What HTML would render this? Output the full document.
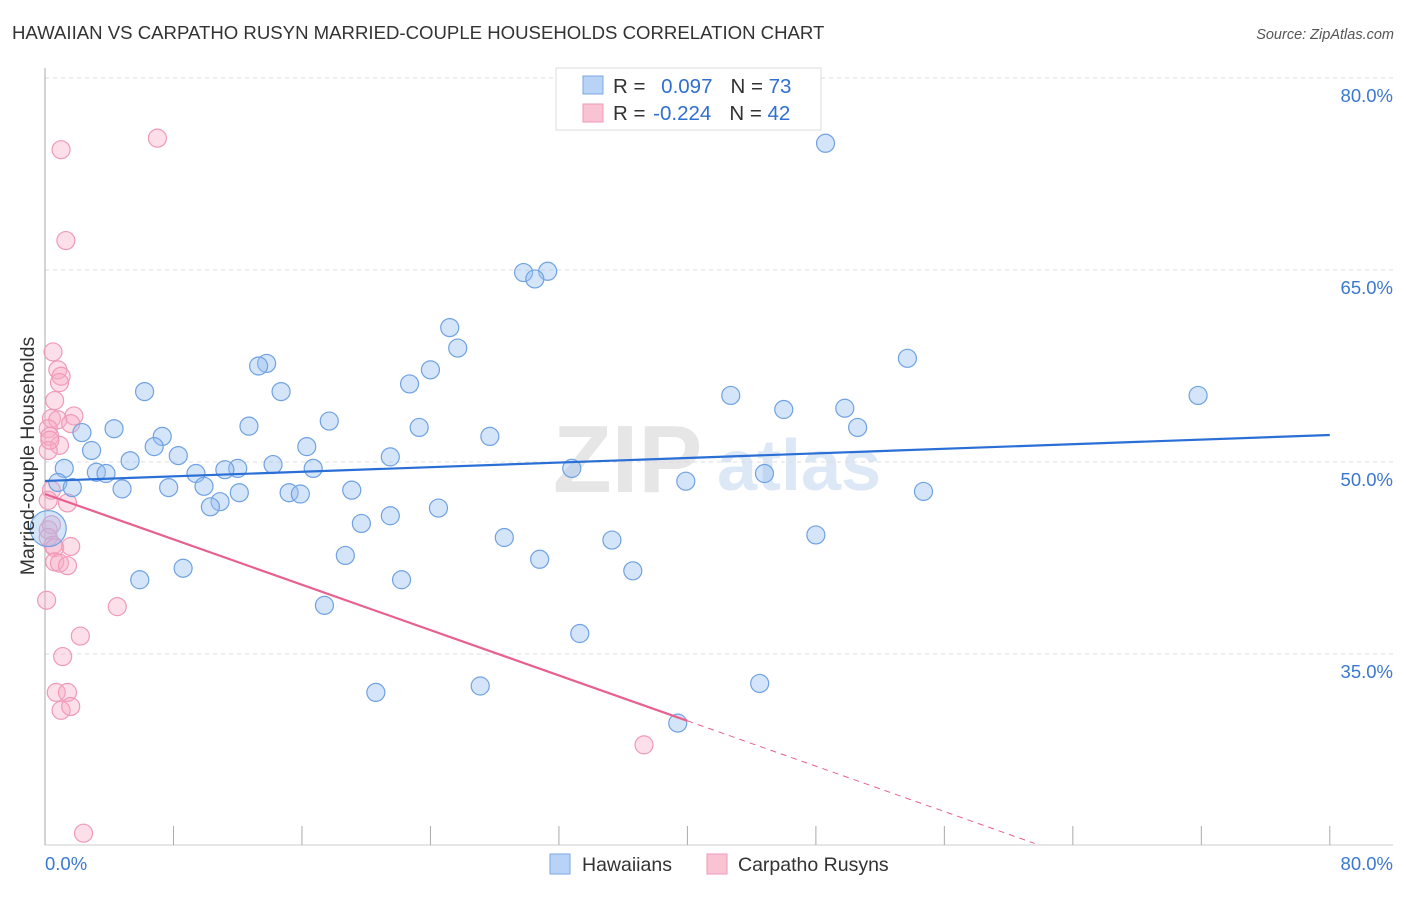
<!DOCTYPE html>
<html><head><meta charset="utf-8"><style>
body{margin:0;background:#fff;font-family:"Liberation Sans",sans-serif}
svg text{font-family:"Liberation Sans",sans-serif}
</style></head><body>
<svg id="chart" width="1406" height="892" viewBox="0 0 1406 892" xmlns="http://www.w3.org/2000/svg">
<text x="12" y="39" font-size="18.6" fill="#333">HAWAIIAN VS CARPATHO RUSYN MARRIED-COUPLE HOUSEHOLDS CORRELATION CHART</text>
<text x="1394" y="39" font-size="14.5" fill="#555" text-anchor="end" font-style="italic">Source: ZipAtlas.com</text>
<g>
<text x="553" y="492" font-size="96" fill="#e6e6e6" font-family="Liberation Serif" font-weight="bold">ZIP</text>
<text x="717" y="490" font-size="72" fill="#dce8f6" font-weight="bold">atlas</text>
</g>
<g id="grid"></g>
<g id="axes"></g>
<g id="marks"></g>
<text transform="translate(34,456) rotate(-90)" font-size="19.5" fill="#333" text-anchor="middle">Married-couple Households</text>
<g>
<rect x="556" y="68" width="265" height="62" fill="#fff" stroke="#ddd"/>
<rect x="583" y="76" width="20" height="18" fill="#b8d3f5" stroke="#7aa7e4"/>
<rect x="583" y="104" width="20" height="18" fill="#f9c3d4" stroke="#ee9ab7"/>
<text x="613" y="93" font-size="20.5" fill="#333">R = <tspan fill="#2f6fd0" dx="10">0.097</tspan><tspan dx="18" fill="#333">N = </tspan><tspan fill="#2f6fd0">73</tspan></text>
<text x="613" y="120" font-size="20.5" fill="#333">R = <tspan fill="#2f6fd0" dx="2">-0.224</tspan><tspan dx="18" fill="#333">N = </tspan><tspan fill="#2f6fd0">42</tspan></text>
</g>
<g>
<rect x="550" y="854" width="20" height="20" fill="#b8d3f5" stroke="#7aa7e4"/>
<text x="582" y="871" font-size="19.5" fill="#333">Hawaiians</text>
<rect x="707" y="854" width="20" height="20" fill="#f9c3d4" stroke="#ee9ab7"/>
<text x="738" y="871" font-size="19.5" fill="#333">Carpatho Rusyns</text>
</g>
</svg>
<script>
const yTicks=[35,50,65,80];
const yTickLabels=["35.0%","50.0%","65.0%","80.0%"];
const xTickLabels=["0.0%","80.0%"];
const blueX=[48.6,29.8,31.3,30.5,25.2,25.7,53.7,13.8,13.3,24.0,22.7,6.2,14.7,42.7,71.8,46.0,49.8,17.7,12.7,4.3,23.3,50.6,2.3,7.3,27.7,6.8,16.3,2.9,8.3,5.3,21.5,14.2,1.2,12.0,11.2,16.7,32.8,3.2,3.8,9.4,44.8,0.8,1.7,39.9,7.7,9.9,4.8,19.1,12.1,15.2,15.9,54.7,10.9,10.3,24.5,21.5,19.7,0.2,28.6,35.3,48.0,18.7,30.8,5.9,8.6,36.6,22.2,17.4,33.3,44.5,27.1,20.6,39.4];
const blueY=[74.9,64.8,64.9,64.3,60.5,58.9,58.1,57.7,57.5,57.2,56.1,55.5,55.5,55.2,55.2,54.1,54.2,53.2,52.8,52.6,52.7,52.7,52.3,52.0,52.0,51.2,51.2,50.9,50.5,50.1,50.4,49.8,49.5,49.5,49.4,49.5,49.5,49.2,49.1,49.1,49.1,48.4,48.0,48.5,48.0,48.1,47.9,47.8,47.6,47.6,47.5,47.7,46.9,46.5,46.4,45.8,45.2,44.8,44.1,43.9,44.3,42.7,42.4,40.8,41.7,41.5,40.8,38.8,36.6,32.7,32.5,32.0,29.6];
const pinkX=[7.0,1.0,1.3,0.5,0.8,1.0,0.9,0.6,0.4,1.8,0.8,1.6,0.2,0.3,0.9,0.2,0.3,0.4,1.4,0.2,0.2,0.4,0.2,0.5,0.6,1.6,0.6,0.9,1.4,0.1,4.5,2.2,1.1,0.7,1.4,1.0,1.6,37.3,2.4];
const pinkY=[75.3,74.4,67.3,58.6,57.2,56.7,56.2,54.8,53.4,53.6,53.3,53.0,52.6,52.0,51.3,50.9,51.7,47.8,46.8,47.0,44.7,45.1,44.1,43.5,43.3,43.4,42.2,42.1,41.9,39.2,38.7,36.4,34.8,32.0,32.0,30.6,30.9,27.9,21.0];
const blueTrend=[48.52,52.11];
const pinkTrend=[47.5,-0.443];
const NS="http://www.w3.org/2000/svg";
const sx=v=>45+v*16.06, sy=v=>462-(v-50)*12.8;
function mk(t,a,p){const e=document.createElementNS(NS,t);for(const k in a)e.setAttribute(k,a[k]);p.appendChild(e);return e;}
const grid=document.getElementById('grid'),axes=document.getElementById('axes'),marks=document.getElementById('marks');
yTicks.forEach((v,i)=>{
 const l=mk('line',{x1:45,x2:1393,y1:sy(v),y2:sy(v),stroke:'#dcdcdc','stroke-dasharray':'4,4'},grid);
 
 
 const t=mk('text',{x:1393,y:sy(v)+24,'font-size':18.5,fill:'#3a78d0','text-anchor':'end'},axes);
 t.textContent=yTickLabels[i];
 
 
});
mk('line',{x1:45,x2:45,y1:68,y2:845,stroke:'#aaa'},axes);
mk('line',{x1:45,x2:1393,y1:845,y2:845,stroke:'#ccc'},axes);
for(let i=0;i<=10;i++){const tk=mk('line',{x1:sx(i*8),x2:sx(i*8),y1:826,y2:845,stroke:'#aaa'},axes);}
[[0,'start',45],[1,'end',1393]].forEach(([i,a,x])=>{const t=mk('text',{x:x,y:870,'font-size':18.5,fill:'#3a78d0','text-anchor':a},axes);t.textContent=xTickLabels[i];});
pinkX.forEach((x,i)=>{const c=mk('circle',{cx:sx(x),cy:sy(pinkY[i]),r:9,fill:'rgba(246,170,196,0.38)',stroke:'#ef9ab8','stroke-width':1.2},marks);
 
 });
blueX.forEach((x,i)=>{const c=mk('circle',{cx:sx(x),cy:sy(blueY[i]),r:(i==57?18:9),fill:'rgba(150,190,240,0.4)',stroke:'#6fa2e2','stroke-width':1.2},marks);
 
 });
const bl=mk('line',{x1:sx(0),y1:sy(blueTrend[0]),x2:sx(80),y2:sy(blueTrend[1]),stroke:'#2a6fd6','stroke-width':2.2},marks);


const pe=v=>pinkTrend[0]+pinkTrend[1]*v;
const pl=mk('line',{x1:sx(0),y1:sy(pe(0)),x2:sx(40),y2:sy(pe(40)),stroke:'#e8608f','stroke-width':2.2},marks);


const xEnd=(20.2-pinkTrend[0])/pinkTrend[1];
const pd=mk('line',{x1:sx(40),y1:sy(pe(40)),x2:sx(xEnd),y2:sy(pe(xEnd)),stroke:'#e8608f','stroke-width':1,'stroke-dasharray':'6,5'},marks);


</script>
</body></html>
